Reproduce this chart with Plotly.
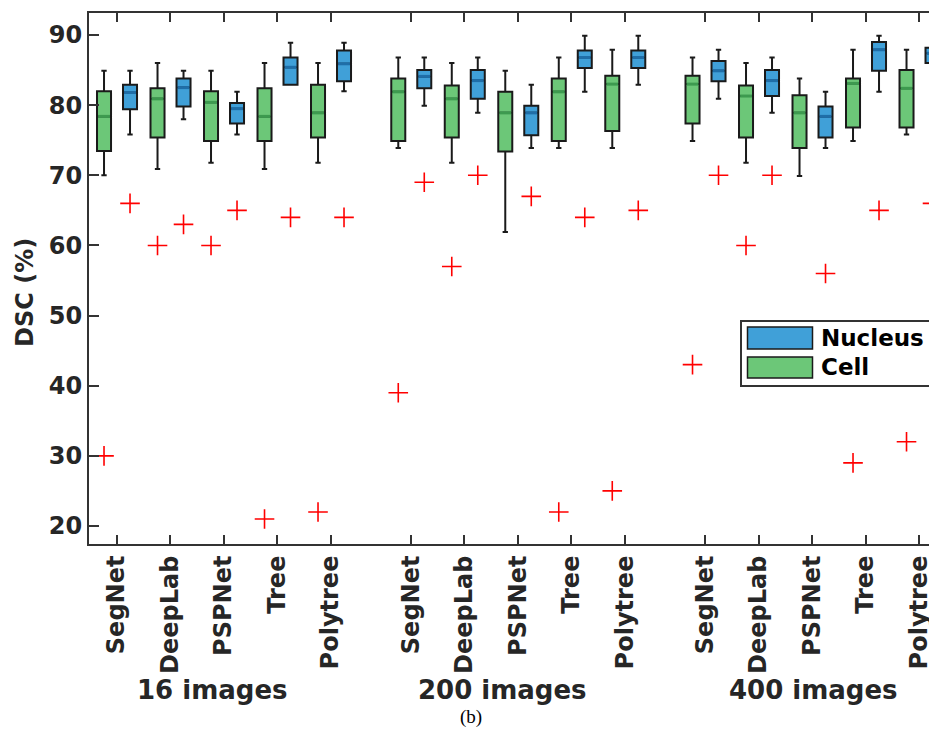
import plotly.graph_objects as go

# ---------------- data ----------------
methods = ["SegNet", "DeepLab", "PSPNet", "Tree", "Polytree"]
groups = ["16 images", "200 images", "400 images"]
tick_pos = [1, 2, 3, 4, 5, 6.5, 7.5, 8.5, 9.5, 10.5, 12, 13, 14, 15, 16]
tick_labels = methods * 3

# Cell (green)
cell_median = [78.4, 80.9, 80.4, 78.4, 78.9, 81.9, 80.9, 78.9, 81.9, 83.0, 83.0, 81.3, 78.9, 83.1, 82.4]
cell_q1 = [73.45, 75.4, 74.9, 74.9, 75.4, 74.9, 75.4, 73.4, 74.9, 76.3, 77.4, 75.4, 73.9, 76.8, 76.8]
cell_q3 = [82.0, 82.4, 82.0, 82.4, 82.9, 83.8, 82.8, 81.9, 83.8, 84.2, 84.2, 82.8, 81.4, 83.8, 85.0]
cell_low = [70.0, 70.9, 71.8, 70.9, 71.8, 73.9, 71.8, 61.9, 73.9, 73.9, 74.9, 71.8, 69.9, 74.9, 75.8]
cell_high = [84.9, 86.0, 84.9, 86.0, 86.0, 86.8, 86.0, 84.9, 86.8, 87.9, 86.8, 86.0, 83.8, 87.9, 87.9]
cell_outlier = [30, 60, 60, 21, 22, 39, 57, None, 22, 25, 43, 60, None, 29, 32]

# Nucleus (blue)
nuc_median = [81.8, 82.5, 79.5, 85.4, 85.9, 84.1, 83.5, 78.9, 86.8, 86.8, 84.9, 83.5, 78.4, 87.9, 87.4]
nuc_q1 = [79.4, 79.8, 77.4, 82.9, 83.4, 82.4, 80.9, 75.7, 85.3, 85.3, 83.4, 81.3, 75.4, 84.9, 86.0]
nuc_q3 = [82.9, 83.8, 80.3, 86.8, 87.8, 85.0, 85.0, 79.9, 87.8, 87.8, 86.3, 85.0, 79.8, 89.0, 88.2]
nuc_low = [75.8, 78.0, 75.8, 82.9, 82.0, 79.9, 78.9, 73.9, 81.9, 82.9, 80.9, 78.9, 73.9, 81.9, 82.9]
nuc_high = [84.9, 84.9, 81.9, 88.9, 88.9, 86.8, 86.8, 82.9, 89.9, 89.9, 87.9, 86.8, 81.9, 89.9, 90.0]
nuc_outlier = [66, 63, 65, 64, 64, 69, 70, 67, 64, 65, 70, 70, 56, 65, 66]

# ---------------- style / layout geometry ----------------
PAGE_OFF = 8                      # default body margin of the page
REF_L, REF_T, REF_R, REF_B = 89, 13, 937, 544   # plot frame in page pixels
W, H = 937 - PAGE_OFF, 742 - PAGE_OFF
PW, PH = REF_R - REF_L, REF_B - REF_T
L, T = REF_L - PAGE_OFF, REF_T - PAGE_OFF
R = W - L - PW
B = H - T - PH
BOX_W = 0.262
OFF_CELL, OFF_NUC = -0.237, 0.249
GREEN, GREEN_D = "#6cc778", "#3d9a4f"
BLUE, BLUE_D = "#40a0d8", "#1f6ea8"
TXT = "#262626"
FONT = "DejaVu Sans"


def px(x):
    return (x - REF_L) / PW


def py(y):
    return (REF_B - y) / PH


fig = go.Figure()


def add_series(offset, q1, med, q3, lo, hi, outl, fill, dark, name):
    xs = [t + offset for t in tick_pos]
    fig.add_trace(go.Box(
        x=xs, q1=q1, median=med, q3=q3, lowerfence=lo, upperfence=hi,
        width=BOX_W, whiskerwidth=0.38, fillcolor=fill,
        line=dict(color="#1a1a1a", width=2), boxpoints=False,
        name=name, showlegend=False, hoverinfo="skip"))
    mx, my = [], []
    for x, m in zip(xs, med):
        mx += [x - BOX_W / 2 + 0.02, x + BOX_W / 2 - 0.02, None]
        my += [m, m, None]
    fig.add_trace(go.Scatter(x=mx, y=my, mode="lines",
                             line=dict(color=dark, width=3),
                             showlegend=False, hoverinfo="skip"))
    ox = [x for x, o in zip(xs, outl) if o is not None]
    oy = [o for o in outl if o is not None]
    fig.add_trace(go.Scatter(x=ox, y=oy, mode="markers",
                             marker=dict(symbol="cross-thin", size=14,
                                         line=dict(color="#ff0000", width=1.6)),
                             showlegend=False, hoverinfo="skip"))


add_series(OFF_CELL, cell_q1, cell_median, cell_q3, cell_low, cell_high,
           cell_outlier, GREEN, GREEN_D, "Cell")
add_series(OFF_NUC, nuc_q1, nuc_median, nuc_q3, nuc_low, nuc_high,
           nuc_outlier, BLUE, BLUE_D, "Nucleus")

# ---------------- custom legend ----------------
shapes = [
    dict(type="rect", xref="paper", yref="paper", x0=px(741), x1=px(936),
         y0=py(386), y1=py(321), line=dict(color="#333333", width=2),
         fillcolor="white", layer="above"),
    dict(type="rect", xref="paper", yref="paper", x0=px(747.5), x1=px(812.5),
         y0=py(349), y1=py(327), line=dict(color="#1a1a1a", width=1.5),
         fillcolor=BLUE, layer="above"),
    dict(type="rect", xref="paper", yref="paper", x0=px(747.5), x1=px(812.5),
         y0=py(378), y1=py(357), line=dict(color="#1a1a1a", width=1.5),
         fillcolor=GREEN, layer="above"),
]

annotations = [
    dict(text="Nucleus", xref="paper", yref="paper", x=px(819), y=py(338),
         xanchor="left", yanchor="middle", showarrow=False,
         font=dict(family=FONT, size=23, color="black", weight="bold")),
    dict(text="Cell", xref="paper", yref="paper", x=px(819), y=py(367),
         xanchor="left", yanchor="middle", showarrow=False,
         font=dict(family=FONT, size=23, color="black", weight="bold")),
    dict(text="DSC (%)", xref="paper", yref="paper", x=px(25), y=py(293),
         xanchor="center", yanchor="middle", textangle=-90, showarrow=False,
         font=dict(family=FONT, size=24, color=TXT, weight="bold")),
    dict(text="(b)", xref="paper", yref="paper", x=px(471), y=py(717),
         xanchor="center", yanchor="middle", showarrow=False,
         font=dict(family="Liberation Serif", size=19, color="black")),
]
group_px = [212.5, 502.5, 813.3]
for g, gx in zip(groups, group_px):
    annotations.append(dict(
        text=g, xref="paper", yref="paper", x=px(gx), y=py(690),
        xanchor="center", yanchor="middle", showarrow=False,
        font=dict(family=FONT, size=26, color=TXT, weight="bold")))

x0 = 1 + (REF_L - 116.7) / 53.5
x1 = x0 + PW / 53.5

fig.update_layout(
    width=W, height=H,
    margin=dict(l=L, r=R, t=T, b=B, pad=0),
    paper_bgcolor="white", plot_bgcolor="white",
    boxmode="overlay",
    shapes=shapes, annotations=annotations,
    xaxis=dict(range=[x0, x1], tickvals=tick_pos, ticktext=tick_labels,
               tickangle=-90, ticks="inside", ticklen=9, tickwidth=2,
               tickcolor="#333333", showline=True, linewidth=2,
               linecolor="#333333", mirror="ticks", showgrid=False,
               zeroline=False,
               tickfont=dict(family=FONT, size=24, color=TXT, weight="bold")),
    yaxis=dict(range=[17.43, 93.14], tickvals=[20, 30, 40, 50, 60, 70, 80, 90],
               ticks="inside", ticklen=10, tickwidth=2, tickcolor="#333333",
               showline=True, linewidth=2, linecolor="#333333",
               showgrid=False, zeroline=False,
               tickfont=dict(family=FONT, size=24, color=TXT, weight="bold")),
)

fig.write_html("out.html")
